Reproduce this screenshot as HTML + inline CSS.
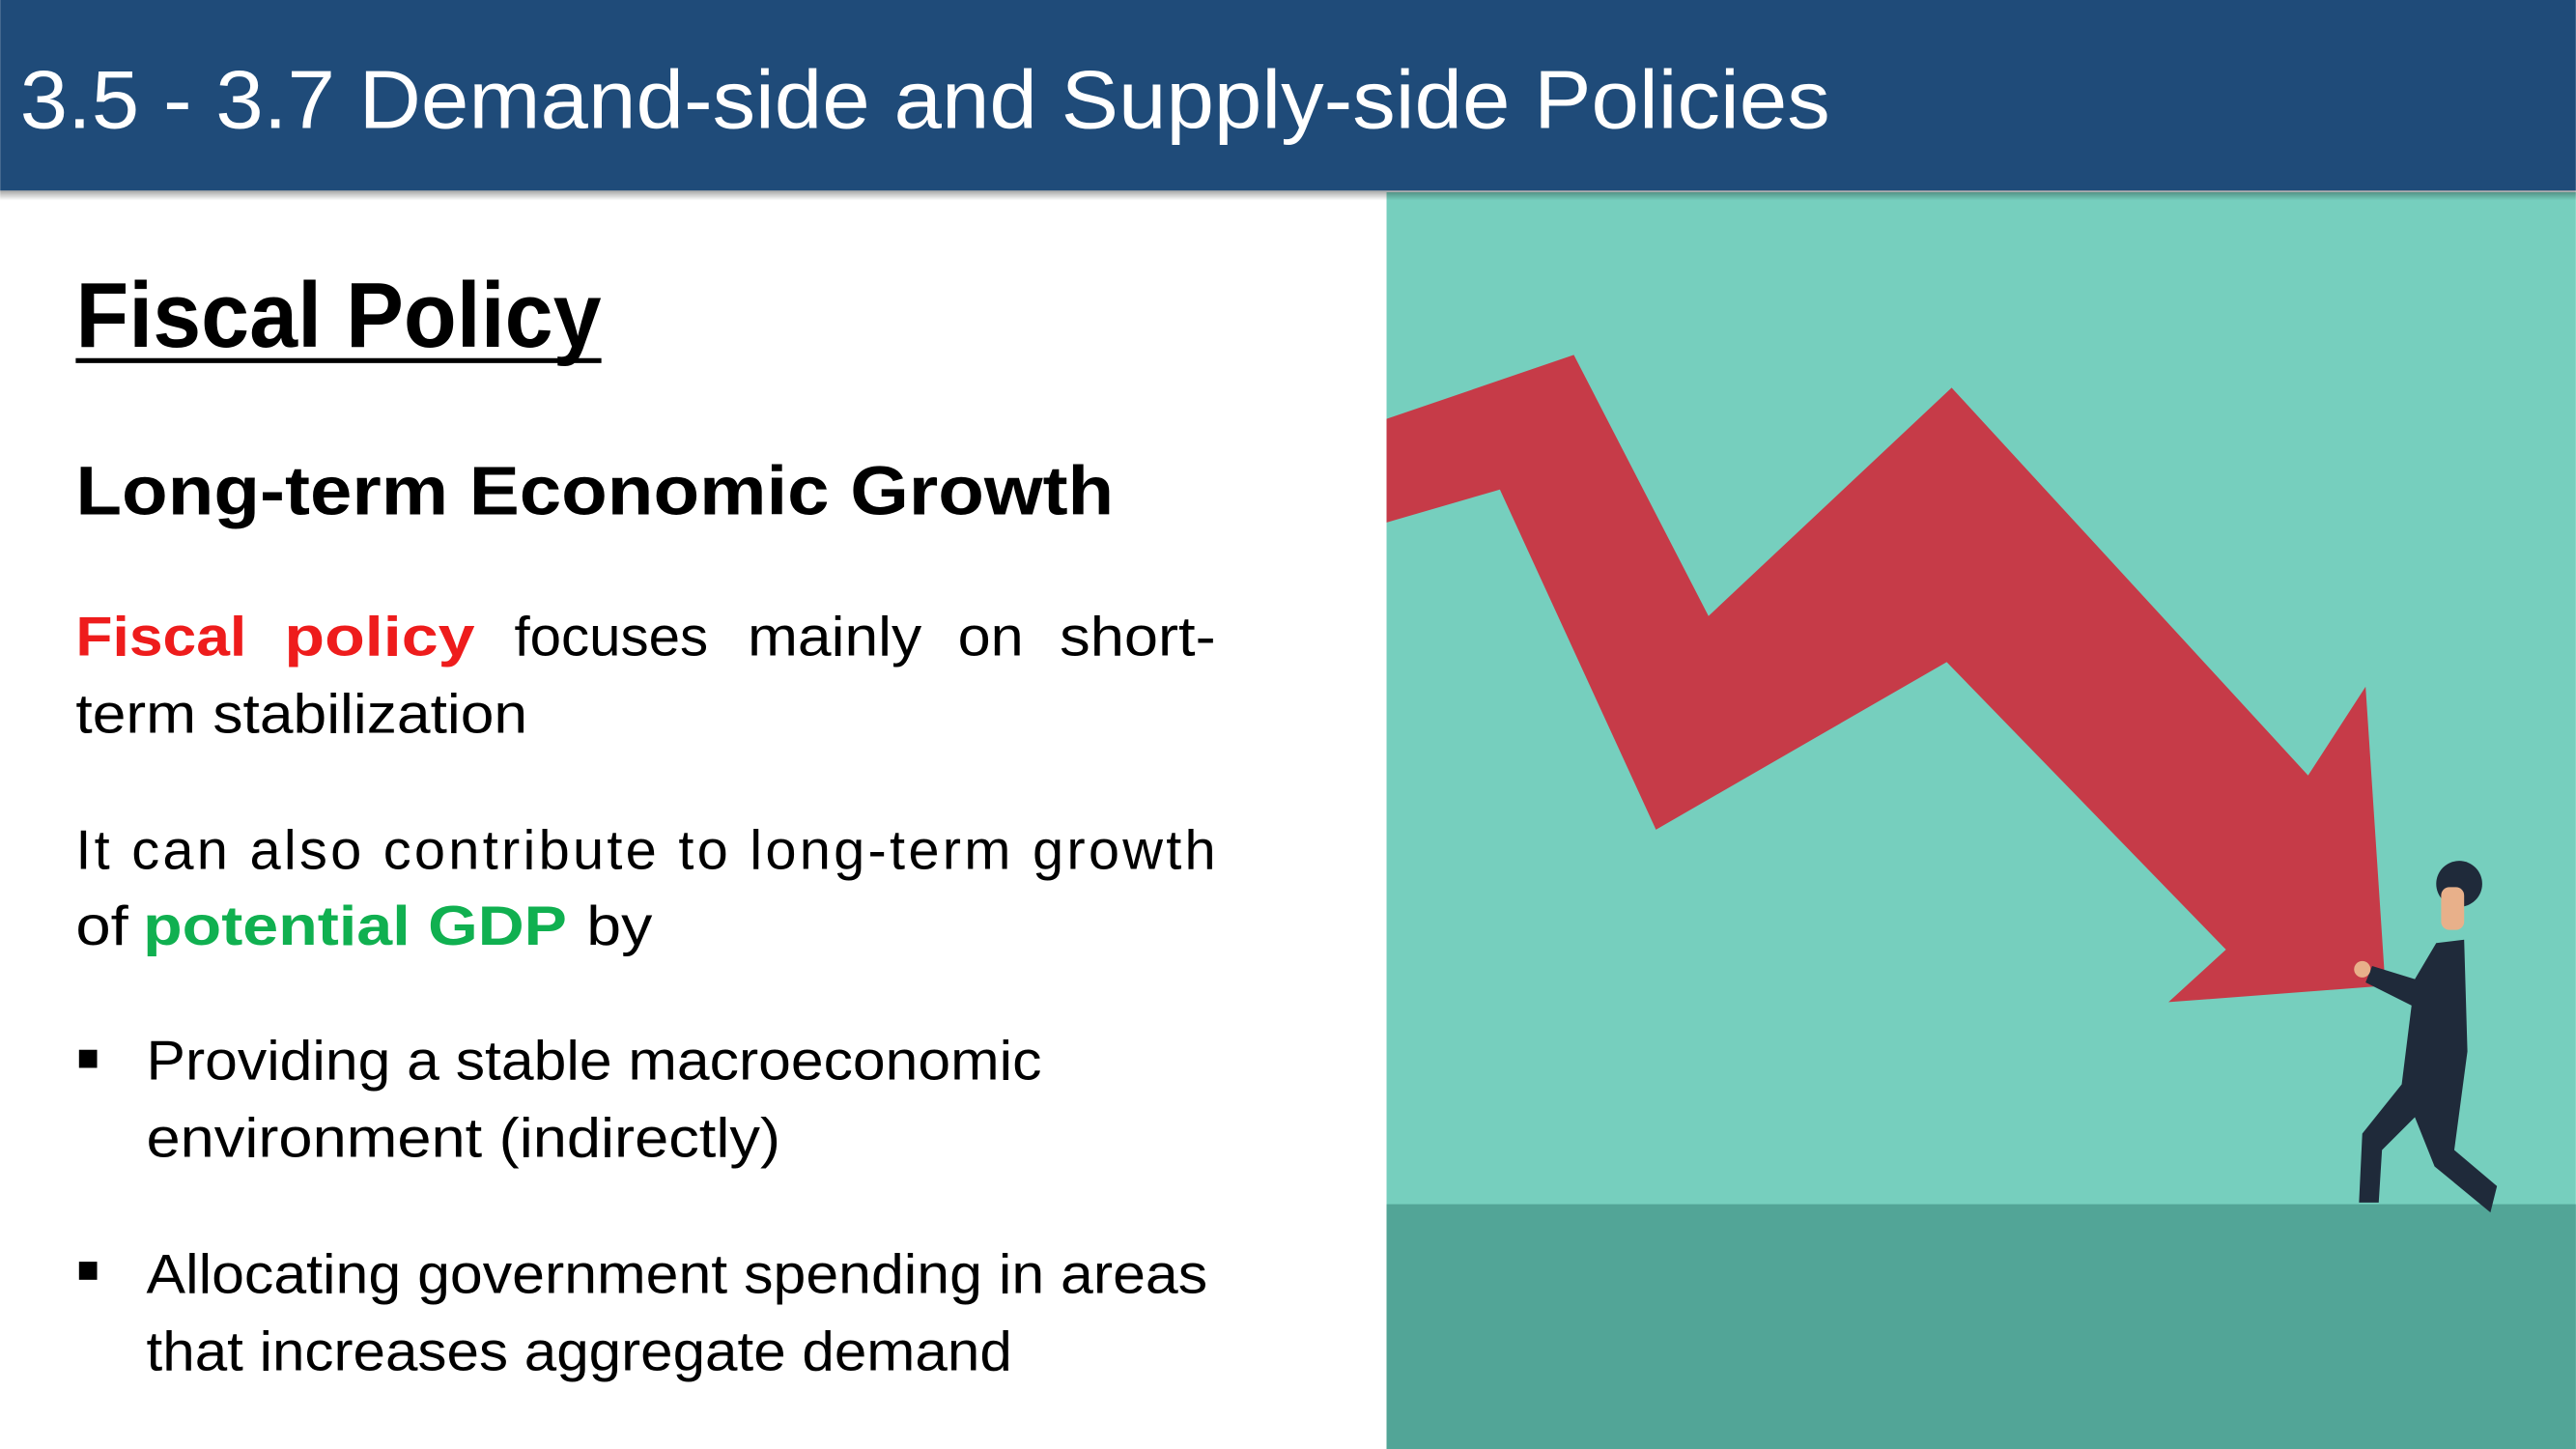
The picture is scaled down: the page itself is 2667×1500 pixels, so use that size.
<!DOCTYPE html>
<html><head><meta charset="utf-8"><style>
html,body{margin:0;padding:0;background:#fff;}
svg{display:block;}
text{font-family:"Liberation Sans",sans-serif;}
</style></head><body>
<svg width="2667" height="1500" viewBox="0 0 1568 882" xmlns="http://www.w3.org/2000/svg">
  <defs>
    <linearGradient id="sh" x1="0" y1="0" x2="0" y2="1">
      <stop offset="0" stop-color="#000" stop-opacity="0.35"/>
      <stop offset="1" stop-color="#000" stop-opacity="0"/>
    </linearGradient>
  </defs>
  <rect width="1568" height="882" fill="#fff"/>
  <!-- right image -->
  <g>
    <rect x="844" y="117" width="724" height="765" fill="#76cfbe"/>
    <rect x="844" y="733" width="724" height="149" fill="#52a597"/>
    <polygon fill="#c63b48"
      points="844,255 958,216 1040,375 1188,236 1405,472 1440,418 1452,600 1320,610 1355,578 1185,403 1008,505 913,298 844,318"/>
    <g fill="#1f2a3a">
      <circle cx="1497" cy="538" r="14"/>
      <rect x="1486" y="540" width="14" height="26" rx="5" fill="#e8b08a"/>
      <path d="M1483,574 L1500,572 L1502,640 L1494,700 L1520,722 L1516,738 L1482,710 L1470,680 L1450,700 L1448,732 L1436,732 L1438,690 L1462,660 L1468,612 L1440,598 L1444,588 L1470,596 Z"/>
      <circle cx="1438" cy="590" r="5" fill="#e8b08a"/>
    </g>
  </g>
  <!-- header -->
  <rect x="0" y="0" width="1568" height="116" fill="#1f4b79"/>
  <rect x="0" y="116" width="1568" height="6" fill="url(#sh)"/>
  <text x="12" y="78" font-size="50" fill="#fff" textLength="1102" lengthAdjust="spacingAndGlyphs">3.5 - 3.7 Demand-side and Supply-side Policies</text>
  <!-- left content -->
  <text x="46" y="211" font-size="56" font-weight="bold" fill="#000" textLength="320" lengthAdjust="spacingAndGlyphs">Fiscal Policy</text>
  <rect x="46" y="218" width="320" height="3" fill="#000"/>
  <text x="46" y="313" font-size="42" font-weight="bold" fill="#000" textLength="632" lengthAdjust="spacingAndGlyphs">Long-term Economic Growth</text>
  <g font-size="34" fill="#000">
    <text x="46" y="399" font-weight="bold" fill="#ee1c1c" textLength="104" lengthAdjust="spacingAndGlyphs">Fiscal</text>
    <text x="173" y="399" font-weight="bold" fill="#ee1c1c" textLength="116" lengthAdjust="spacingAndGlyphs">policy</text>
    <text x="313" y="399" textLength="118" lengthAdjust="spacingAndGlyphs">focuses</text>
    <text x="455" y="399" textLength="106" lengthAdjust="spacingAndGlyphs">mainly</text>
    <text x="583" y="399" textLength="40" lengthAdjust="spacingAndGlyphs">on</text>
    <text x="645" y="399" textLength="95" lengthAdjust="spacingAndGlyphs">short-</text>
    <text x="46" y="446" textLength="275" lengthAdjust="spacingAndGlyphs">term stabilization</text>
  </g>
  <g font-size="34" fill="#000">
    <text x="46" y="529" textLength="694" lengthAdjust="spacing">It can also contribute to long-term growth</text>
    <text x="46" y="575" textLength="32" lengthAdjust="spacingAndGlyphs">of</text>
    <text x="87" y="575" font-weight="bold" fill="#10b050" textLength="258" lengthAdjust="spacingAndGlyphs">potential GDP</text>
    <text x="357" y="575" textLength="40" lengthAdjust="spacingAndGlyphs">by</text>
  </g>
  <g font-size="34" fill="#000">
    <rect x="48" y="639" width="11" height="11"/>
    <text x="89" y="657" textLength="545" lengthAdjust="spacingAndGlyphs">Providing a stable macroeconomic</text>
    <text x="89" y="704" textLength="386" lengthAdjust="spacingAndGlyphs">environment (indirectly)</text>
    <rect x="48" y="768" width="11" height="11"/>
    <text x="89" y="787" textLength="646" lengthAdjust="spacingAndGlyphs">Allocating government spending in areas</text>
    <text x="89" y="834" textLength="527" lengthAdjust="spacingAndGlyphs">that increases aggregate demand</text>
  </g>
</svg>
</body></html>
